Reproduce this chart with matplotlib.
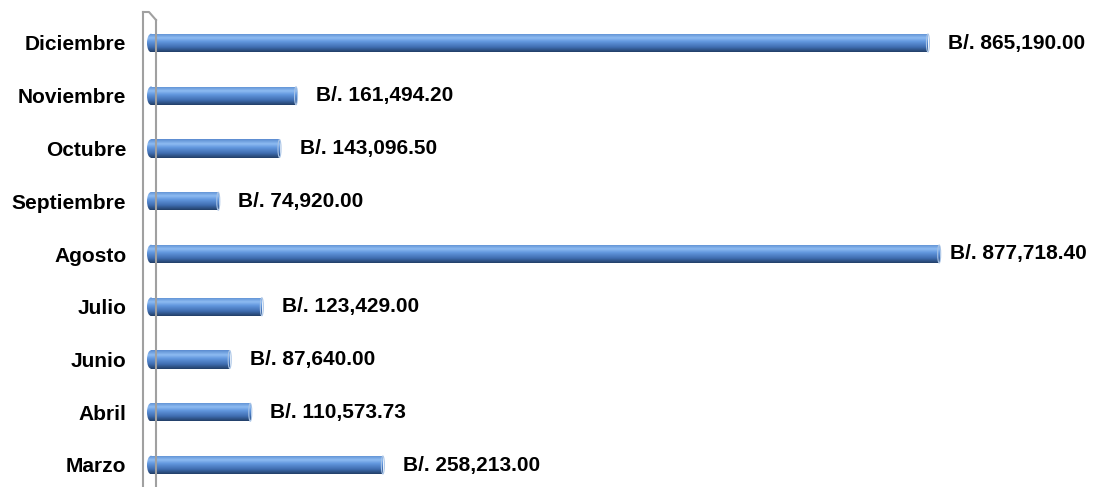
import matplotlib.pyplot as plt
import numpy as np
from matplotlib.colors import LinearSegmentedColormap
from matplotlib.patches import Ellipse
from matplotlib.lines import Line2D

meses = ['Marzo', 'Abril', 'Junio', 'Julio', 'Agosto', 'Septiembre', 'Octubre', 'Noviembre', 'Diciembre']
montos = [258213.00, 110573.73, 87640.00, 123429.00, 877718.40, 74920.00, 143096.50, 161494.20, 865190.00]

plt.rcParams['font.family'] = ['Liberation Sans', 'DejaVu Sans']

fig = plt.figure(figsize=(10.94, 4.87), dpi=100)
ax = fig.add_axes([143 / 1094, 0, 951 / 1094, 1])

cmap = LinearSegmentedColormap.from_list('cil', [
    (0.0, '#5a8bd0'), (0.25, '#8ebcf2'), (0.45, '#6196dd'),
    (0.75, '#3f6db0'), (1.0, '#223f68')])
grad = np.linspace(0, 1, 64).reshape(-1, 1)

alto = 0.35
px = 1 / 0.000898  # unidades por pixel
limite = 936 * px  # borde derecho para las etiquetas
y = np.arange(len(meses))
barras = ax.barh(y, montos, height=alto, color='none', edgecolor='none')
for b, v in zip(barras, montos):
    y0 = b.get_y()
    im = ax.imshow(grad, cmap=cmap, aspect='auto', origin='upper',
                   extent=(0, v, y0, y0 + alto), zorder=2)
    im.set_clip_path(b)
    cap = Ellipse((0, y0 + alto / 2), 8 * px, alto, facecolor='none', edgecolor='none')
    ax.add_patch(cap)
    im2 = ax.imshow(grad, cmap=cmap, aspect='auto', origin='upper',
                    extent=(-4 * px, 0.5 * px, y0, y0 + alto), zorder=2)
    im2.set_clip_path(cap)
    fin = Ellipse((v, y0 + alto / 2), 3 * px, alto * 0.97, facecolor='none',
                  edgecolor='#a9c4e6', lw=0.8, zorder=3)
    ax.add_patch(fin)
    txt = 'B/. {:,.2f}'.format(v)
    if v + 20 * px + 137 * px > limite:
        ax.text(limite, y0 + alto / 2, txt, va='center', ha='right',
                fontsize=15, fontweight='bold', color='black')
    else:
        ax.text(v + 20 * px, y0 + alto / 2, txt, va='center', ha='left',
                fontsize=15, fontweight='bold', color='black')

ax.set_xlim(-8 * px, 943 * px)
ax.set_ylim((465 - 487) / 52.75, 465 / 52.75)
ax.set_yticks(y)
ax.set_yticklabels(meses, fontsize=15, fontweight='bold')
ax.tick_params(axis='y', length=0, pad=12)
ax.set_xticks([])
for s in ax.spines.values():
    s.set_visible(False)

# pared del eje (efecto 3D)
gris = '#a0a0a0'
H = 487.0
fig.add_artist(Line2D([143 / 1094, 143 / 1094], [0, 1 - 12 / H], color=gris, lw=1.5))
fig.add_artist(Line2D([156 / 1094, 156 / 1094], [0, 1 - 20 / H], color=gris, lw=1.5))
fig.add_artist(Line2D([143 / 1094, 149 / 1094, 156 / 1094], [1 - 12 / H, 1 - 12 / H, 1 - 20 / H], color=gris, lw=1.5))

fig.savefig('out.png', dpi=100)
